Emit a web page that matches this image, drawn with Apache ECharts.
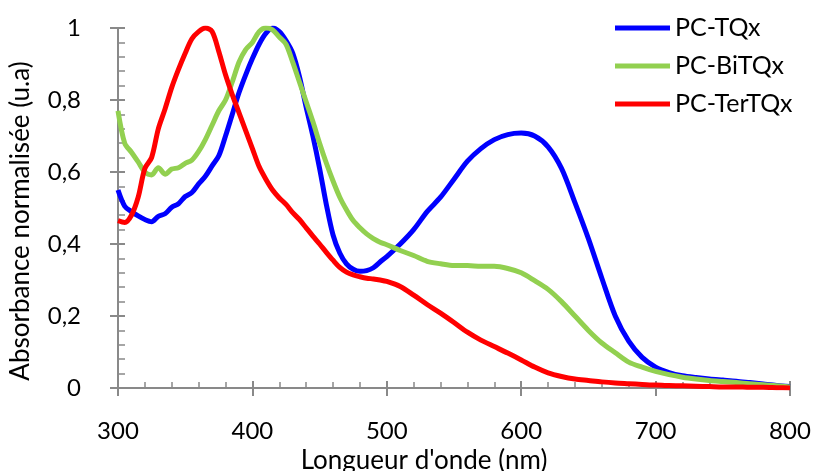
<!DOCTYPE html>
<html>
<head>
<meta charset="utf-8">
<script src="https://cdn.jsdelivr.net/npm/echarts@6/dist/echarts.min.js"></script>
<style>
html,body{margin:0;padding:0;background:#fff;}
#chart{width:813px;height:471px;}
</style>
</head>
<body>
<div id="chart"></div>
<script>
// Wavelengths (nm)
var wavelengths = [300,305,310,315,320,325,330,335,340,345,350,355,360,365,370,375,380,385,390,395,400,405,410,415,420,425,430,435,440,445,450,455,460,465,470,475,480,485,490,495,500,
510,520,530,540,550,560,570,580,590,600,610,620,630,640,650,660,670,680,690,700,710,720,730,740,750,760,770,780,790,800];

var seriesNames = ['PC-TQx','PC-BiTQx','PC-TerTQx'];

var pcTQx = [0.55,0.505,0.49,0.478,0.468,0.462,0.477,0.484,0.502,0.512,0.532,0.543,0.567,0.588,0.617,0.645,0.70,0.76,0.82,0.87,0.915,0.955,0.985,1.0,0.99,0.965,0.93,0.865,0.78,0.70,0.61,0.51,0.425,0.375,0.345,0.33,0.324,0.326,0.334,0.35,0.365,
0.40,0.44,0.49,0.53,0.58,0.63,0.665,0.69,0.704,0.708,0.70,0.67,0.61,0.515,0.415,0.305,0.20,0.13,0.085,0.058,0.043,0.034,0.029,0.025,0.022,0.019,0.015,0.011,0.007,0.004];

var pcBiTQx = [0.77,0.68,0.655,0.628,0.60,0.592,0.612,0.594,0.608,0.612,0.624,0.633,0.657,0.69,0.73,0.77,0.80,0.85,0.905,0.94,0.96,0.99,1.0,0.995,0.975,0.955,0.905,0.85,0.795,0.74,0.68,0.625,0.575,0.53,0.495,0.465,0.445,0.428,0.415,0.405,0.398,
0.382,0.368,0.352,0.345,0.34,0.34,0.338,0.338,0.332,0.32,0.298,0.274,0.24,0.20,0.16,0.125,0.098,0.072,0.058,0.046,0.037,0.030,0.025,0.021,0.018,0.015,0.012,0.009,0.006,0.003];

var pcTerTQx = [0.465,0.46,0.48,0.53,0.61,0.64,0.72,0.775,0.835,0.885,0.93,0.97,0.99,1.0,0.99,0.935,0.87,0.815,0.765,0.715,0.665,0.615,0.58,0.55,0.528,0.51,0.487,0.468,0.445,0.422,0.40,0.377,0.355,0.335,0.322,0.314,0.309,0.305,0.303,0.30,0.296,
0.282,0.258,0.232,0.208,0.182,0.155,0.133,0.115,0.097,0.078,0.058,0.042,0.032,0.025,0.021,0.017,0.014,0.012,0.010,0.008,0.007,0.006,0.005,0.004,0.003,0.003,0.002,0.002,0.001,0.0];

var seriesColors = ['#0000FF','#92D050','#FF0000'];

function pairs(vals){ return wavelengths.map(function(w,i){ return [w, vals[i]]; }); }

var FONT = 'Lato';
var axisGray = '#898989';

var chart = echarts.init(document.getElementById('chart'), null, {renderer:'canvas'});
var option = {
  animation: false,
  backgroundColor: '#ffffff',
  textStyle: {fontFamily: FONT},
  grid: {left:118, right:23, top:28, bottom:83, containLabel:false, outerBoundsMode:'none'},
  legend: {
    orient: 'vertical',
    left: 615, top: 14, padding: 0,
    icon: 'rect',
    itemWidth: 55, itemHeight: 5,
    itemGap: 10,
    textStyle: {fontFamily: FONT, fontSize: 25, color:'#000', lineHeight: 28},
    data: seriesNames
  },
  xAxis: [{
    type:'value', min:300, max:800, interval:100, position:'bottom',
    name:'Longueur d\'onde (nm)', nameLocation:'middle', nameGap:54,
    nameTextStyle:{fontFamily:FONT, fontSize:26, color:'#000', padding:[0,60,0,0]},
    axisLine:{show:true, lineStyle:{color:axisGray, width:2}},
    axisTick:{show:true, inside:false, length:8, lineStyle:{color:axisGray, width:2}},
    minorTick:{show:false},
    axisLabel:{fontFamily:FONT, fontSize:24, color:'#000', margin:31},
    splitLine:{show:false}
  },{
    type:'value', min:300, max:800, interval:100, position:'bottom',
    axisLine:{show:false},
    axisTick:{show:true, inside:true, length:7, lineStyle:{color:axisGray, width:2}},
    minorTick:{show:true, splitNumber:5, length:6, lineStyle:{color:axisGray, width:1.5}},
    axisLabel:{show:false},
    splitLine:{show:false}
  }],
  yAxis: [{
    type:'value', min:0, max:1, interval:0.2, position:'left',
    name:'Absorbance normalisée (u.a)', nameLocation:'middle', nameGap:84,
    nameTextStyle:{fontFamily:FONT, fontSize:26, color:'#000', padding:[0,26,0,0]},
    axisLine:{show:true, lineStyle:{color:axisGray, width:2}},
    axisTick:{show:true, inside:false, length:8, lineStyle:{color:axisGray, width:2}},
    minorTick:{show:false},
    axisLabel:{fontFamily:FONT, fontSize:24, color:'#000', margin:37,
      formatter:function(v){ return String(Math.round(v*10)/10).replace('.',','); }},
    splitLine:{show:false}
  },{
    type:'value', min:0, max:1, interval:0.2, position:'left',
    axisLine:{show:false},
    axisTick:{show:true, inside:true, length:7, lineStyle:{color:axisGray, width:2}},
    minorTick:{show:true, splitNumber:5, length:7, lineStyle:{color:axisGray, width:1.5}},
    axisLabel:{show:false},
    splitLine:{show:false}
  }],
  series: [pcTQx, pcBiTQx, pcTerTQx].map(function(vals, i){
    return {
      name: seriesNames[i], type:'line', xAxisIndex:0, yAxisIndex:0,
      data: pairs(vals), showSymbol:false, symbol:'none', smooth:0.3,
      lineStyle:{color:seriesColors[i], width:5},
      itemStyle:{color:seriesColors[i]},
      z: 2 + i
    };
  })
};
chart.setOption(option);
</script>
</body>
</html>
